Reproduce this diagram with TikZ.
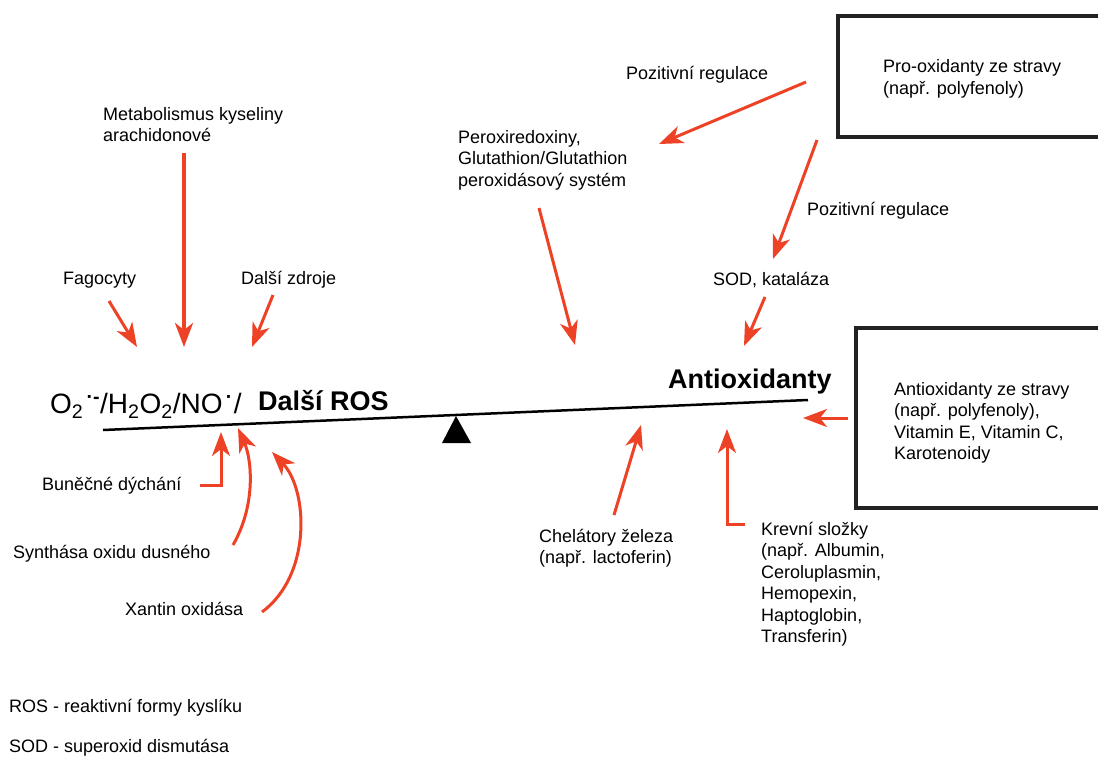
\documentclass[tikz,border=0pt]{standalone}
\usepackage{fontspec}
\setmainfont{Liberation Sans}
\usepackage{xcolor}
\usetikzlibrary{arrows.meta}
\definecolor{arrowred}{RGB}{238,66,38}
\definecolor{boxgray}{RGB}{34,34,34}
\tikzset{
  lbl/.style={font=\fontsize{18}{21.5}\selectfont, align=left, inner sep=0pt, anchor=base west},
  bigbold/.style={font=\fontsize{27}{30}\selectfont\bfseries, inner sep=0pt, anchor=base west},
  redarrow/.style={draw=arrowred, line width=3pt, -{Stealth[length=24pt,width=18pt,inset=7pt]}},
  sidebox/.style={draw=boxgray, line width=3.5pt}
}

\begin{document}
\begin{tikzpicture}[x=1pt,y=-1pt]
\useasboundingbox (0,0) rectangle (1098,756);

% beam and fulcrum
\coordinate (beamL) at (103,430);
\coordinate (beamR) at (808,400);
\draw[line width=2.5pt] (beamL) -- (beamR);
\fill (442,443) -- (456,416) -- (471,443) -- cycle;

% boxes (cut at the right edge)
\draw[sidebox] (838,16) rectangle (1115,137);
\draw[sidebox] (856,328) rectangle (1115,508);

% weights on the beam
\node[inner sep=0pt, anchor=base west, font=\fontsize{28}{32}\selectfont] (rosform) at (50,413)
  {O\textsubscript{2}\textsuperscript{\,\textbf{·-}}/H\textsubscript{2}O\textsubscript{2}/NO\textsuperscript{\,\textbf{·}}\kern1pt/};
\node[bigbold] (rosbold) at (258,410) {Další ROS};
\node[bigbold] (antiox) at (668,388) {Antioxidanty};

% labels (anchor = baseline of the last line)
\node[lbl] (meta) at (103,141.5) {Metabolismus kyseliny\\arachidonové};
\node[lbl] (fago) at (63,284) {Fagocyty};
\node[lbl] (dalsi) at (241,284) {Další zdroje};
\node[lbl] (perox) at (458,186) {Peroxiredoxiny,\\Glutathion/Glutathion\\peroxidásový systém};
\node[lbl] (pozreg1) at (626,79) {Pozitivní regulace};
\node[lbl] (proox) at (883,94) {Pro-oxidanty ze stravy\\(např. polyfenoly)};
\node[lbl] (pozreg2) at (807,215) {Pozitivní regulace};
\node[lbl] (sod) at (713,285) {SOD, kataláza};
\node[lbl] (diet) at (894,459.5) {Antioxidanty ze stravy\\(např. polyfenoly),\\Vitamin E, Vitamin C,\\Karotenoidy};
\node[lbl] (bunecne) at (42,490) {Buněčné dýchání};
\node[lbl] (synth) at (13,558) {Synthása oxidu dusného};
\node[lbl] (xantin) at (125,615) {Xantin oxidása};
\node[lbl] (chelat) at (539,563.5) {Chelátory železa\\(např. lactoferin)};
\node[lbl] (krev) at (761,642.5) {Krevní složky\\(např. Albumin,\\Ceroluplasmin,\\Hemopexin,\\Haptoglobin,\\Transferin)};

% legend
\node[lbl] (legros) at (9,712) {ROS - reaktivní formy kyslíku};
\node[lbl] (legsod) at (9,752) {SOD - superoxid dismutása};

% arrow ends
\coordinate (metaS) at (184,153);   \coordinate (metaT) at (184,347);
\coordinate (fagoS) at (109,301);   \coordinate (fagoT) at (137,347);
\coordinate (dalsiS) at (273,295);  \coordinate (dalsiT) at (252,347);
\coordinate (peroxS) at (539,208);  \coordinate (peroxT) at (575,345);
\coordinate (reg1S) at (806,82);    \coordinate (reg1T) at (659,144);
\coordinate (reg2S) at (817,140);   \coordinate (reg2T) at (773,259);
\coordinate (sodS) at (765,297);    \coordinate (sodT) at (744,346);
\coordinate (dietS) at (848,418);   \coordinate (dietT) at (803,418);
\coordinate (chelS) at (614,515);   \coordinate (chelT) at (641,425);
\coordinate (krevS) at (745,524);   \coordinate (krevT) at (727,429);
\coordinate (bunS) at (200,485);    \coordinate (bunT) at (221,432);
\coordinate (synS) at (233,545);    \coordinate (synT) at (238,428);
\coordinate (xanS) at (262,612);    \coordinate (xanT) at (272,452);

% arrows
\draw[redarrow, line width=4pt] (metaS) -- (metaT);
\draw[redarrow] (fagoS) -- (fagoT);
\draw[redarrow] (dalsiS) -- (dalsiT);
\draw[redarrow] (peroxS) -- (peroxT);
\draw[redarrow] (reg1S) -- (reg1T);
\draw[redarrow] (reg2S) -- (reg2T);
\draw[redarrow] (sodS) -- (sodT);
\draw[redarrow] (dietS) -- (dietT);
\draw[redarrow] (chelS) -- (chelT);
\draw[redarrow] (krevS) -| (krevT);
\draw[redarrow] (bunS) -| (bunT);
\draw[redarrow] (synS) .. controls (256,505) and (252,460) .. (synT);
\draw[redarrow] (xanS) .. controls (312,575) and (308,490) .. (xanT);
\end{tikzpicture}
\end{document}
